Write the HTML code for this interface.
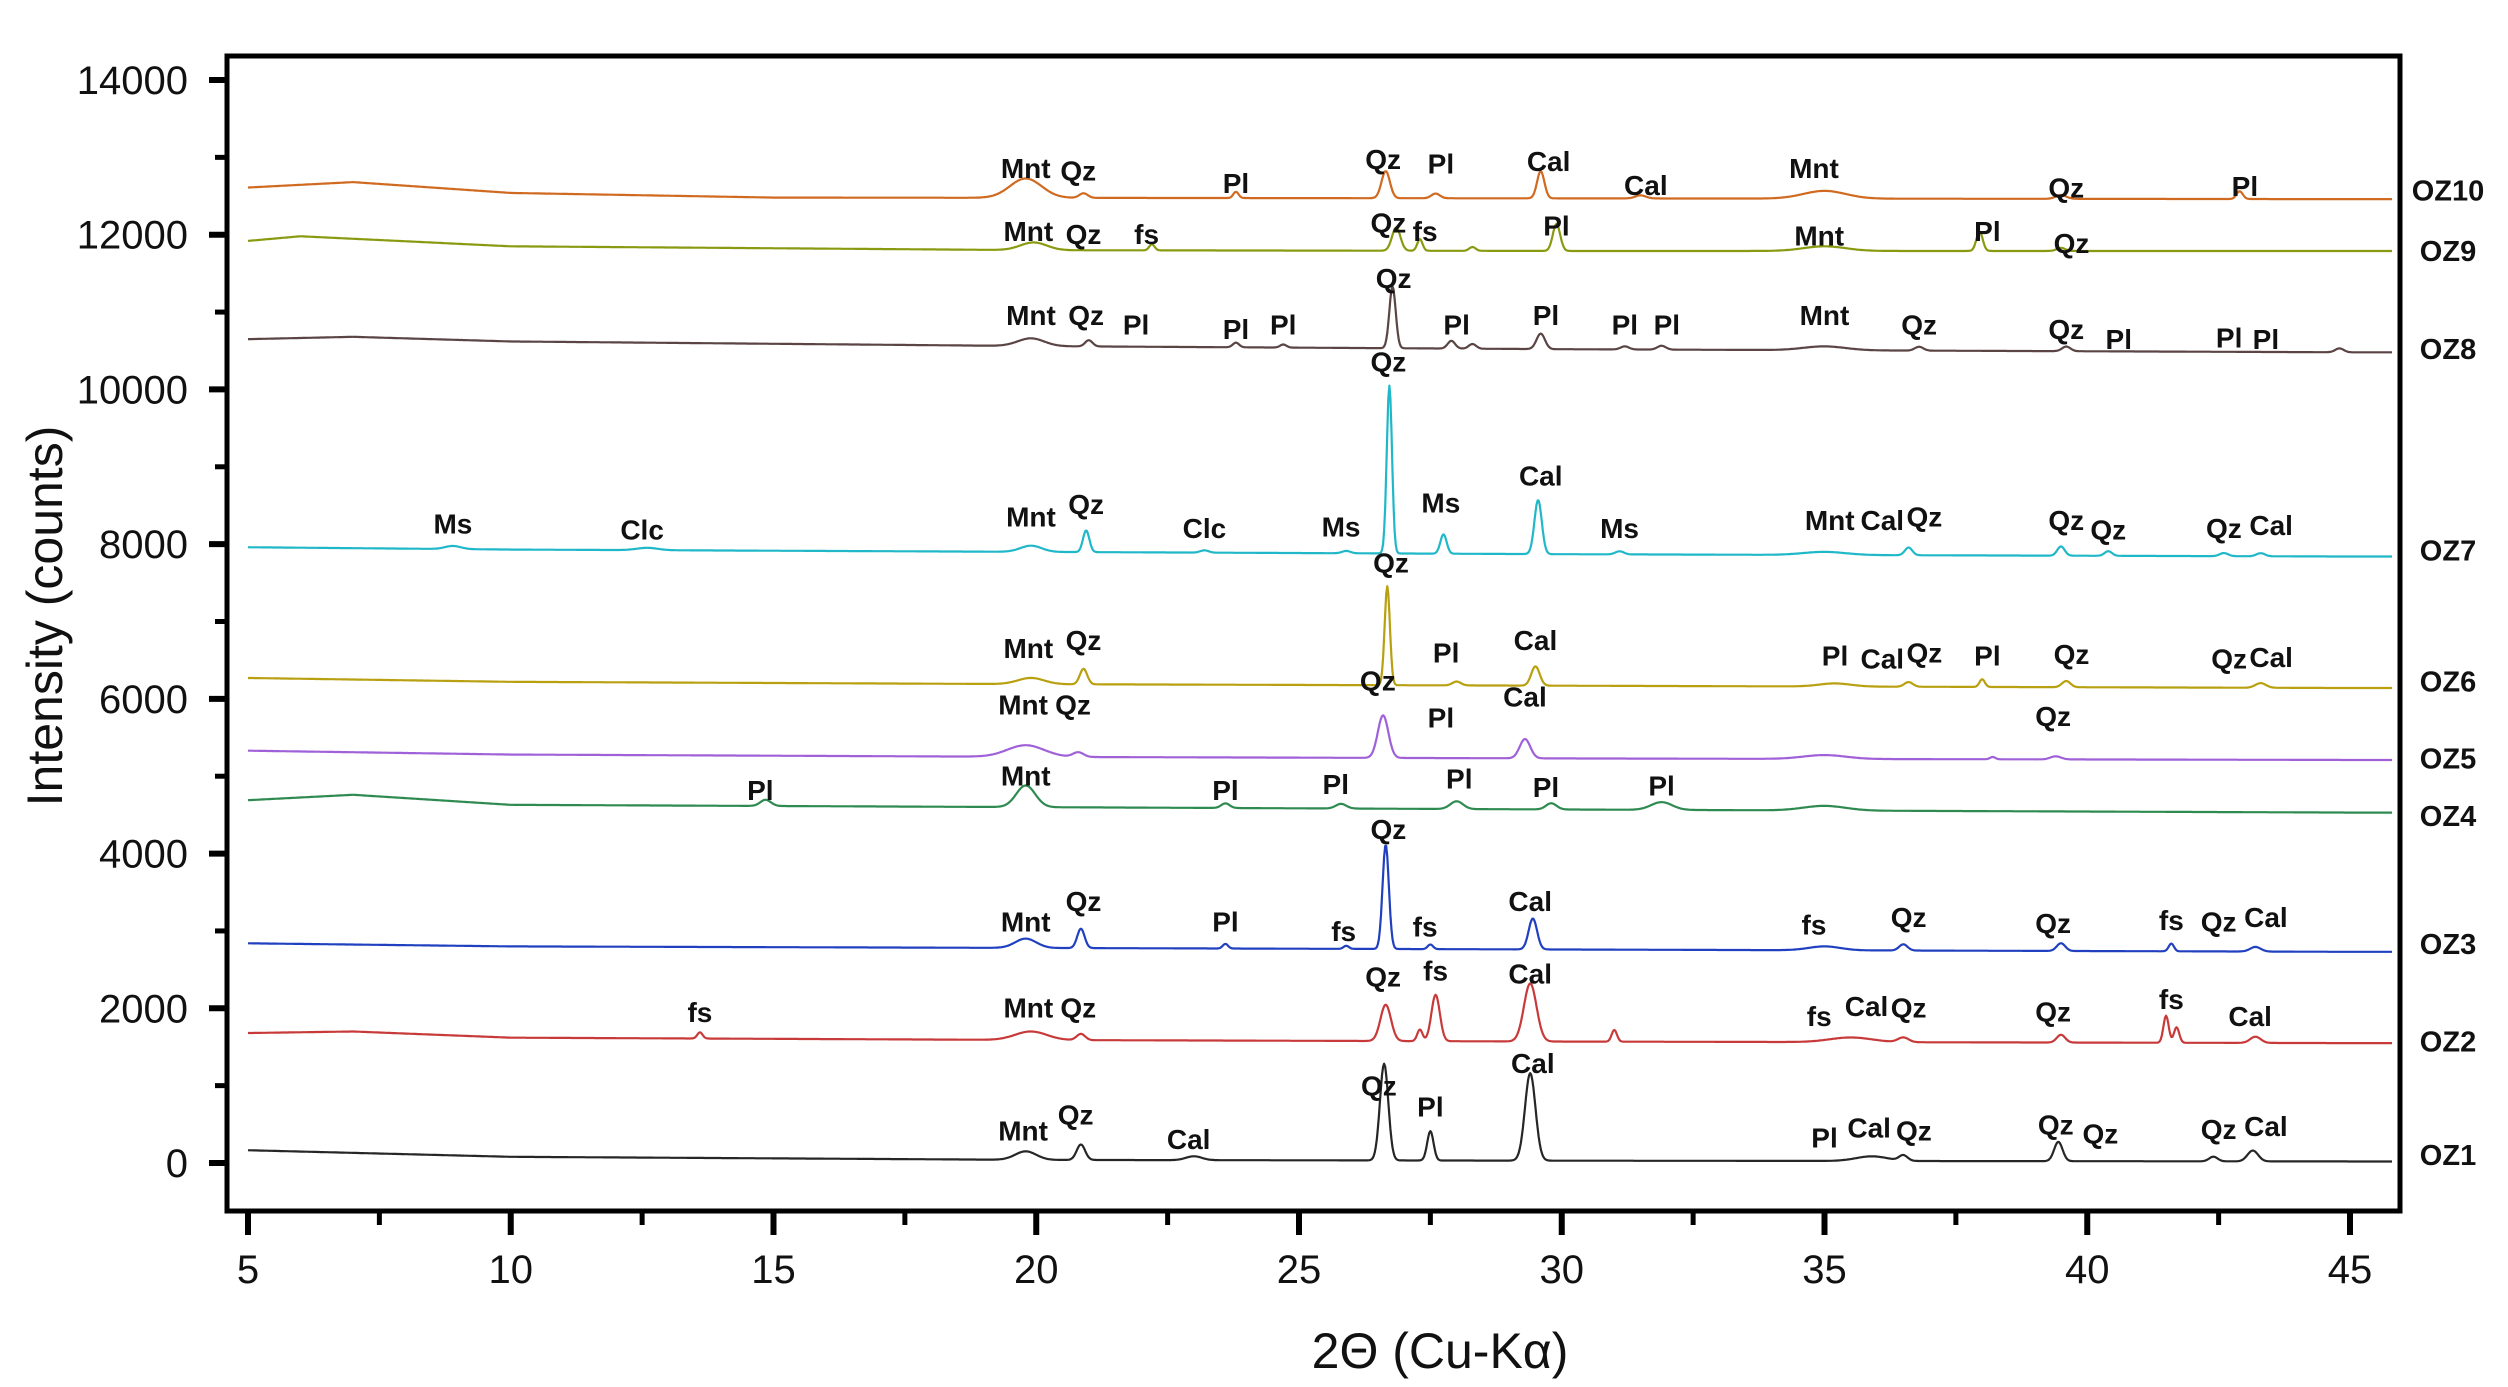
<!DOCTYPE html>
<html><head><meta charset="utf-8"><style>
html,body{margin:0;padding:0;background:#fff;}
svg{display:block;font-family:"Liberation Sans",Arial,sans-serif;}
</style></head><body>
<svg id="chart" width="2508" height="1387" viewBox="0 0 2508 1387"></svg>
<script>
// ---- data ----
const sampleNames = ["OZ1","OZ2","OZ3","OZ4","OZ5","OZ6","OZ7","OZ8","OZ9","OZ10"];
const sampleColors = ["#262626","#c83a3a","#2040c0","#2e8a50","#a060d8","#b8a010","#20b8c8","#5a4444","#8a9a10","#d06a20"];
// baselines: [2theta, counts]
const base1 = [[5,165],[10,80],[20,40],[30,30],[45,20]];
const base2 = [[5,1680],[7,1700],[10,1620],[20,1590],[30,1570],[45,1550]];
const base3 = [[5,2840],[10,2800],[20,2780],[30,2760],[45,2730]];
const base4 = [[5,4690],[7,4760],[10,4630],[20,4600],[30,4570],[45,4530]];
const base5 = [[5,5330],[10,5280],[20,5250],[30,5230],[45,5210]];
const base6 = [[5,6270],[10,6220],[20,6190],[30,6170],[45,6140]];
const base7 = [[5,7960],[10,7930],[20,7900],[30,7870],[45,7840]];
const base8 = [[5,10650],[7,10680],[10,10620],[20,10560],[30,10520],[45,10480]];
const base9 = [[5,11920],[6,11980],[10,11850],[20,11800],[30,11790],[45,11790]];
const base10 = [[5,12610],[7,12680],[10,12540],[15,12480],[30,12470],[45,12460]];
// peaks: [2theta, height, width(sigma)]
const peaks1 = [[19.8,110,0.2],[20.85,200,0.08],[23.0,50,0.15],[26.62,1250,0.08],[27.5,380,0.06],[29.4,1130,0.1],[35.9,60,0.3],[36.5,70,0.08],[39.45,250,0.08],[42.4,60,0.08],[43.15,140,0.1]];
const peaks2 = [[13.6,80,0.05],[19.9,110,0.3],[20.85,80,0.08],[26.65,470,0.1],[27.3,150,0.05],[27.6,600,0.08],[29.4,750,0.12],[31.0,150,0.05],[35.5,60,0.4],[36.5,60,0.1],[39.5,100,0.08],[41.5,350,0.05],[41.7,200,0.05],[43.2,80,0.1]];
const peaks3 = [[19.8,120,0.2],[20.85,250,0.07],[23.6,60,0.05],[25.9,40,0.05],[26.65,1350,0.06],[27.5,60,0.05],[29.45,400,0.08],[35.0,50,0.3],[36.5,80,0.08],[39.5,100,0.08],[41.6,100,0.05],[43.2,60,0.1]];
const peaks4 = [[14.85,80,0.1],[19.8,280,0.18],[23.6,60,0.08],[25.8,60,0.1],[28.0,100,0.12],[29.8,80,0.1],[31.9,100,0.2],[35.0,60,0.4]];
const peaks5 = [[19.8,150,0.35],[20.8,60,0.1],[26.6,550,0.1],[29.3,250,0.1],[35.0,50,0.4],[38.2,30,0.05],[39.4,40,0.1]];
const peaks6 = [[19.9,80,0.25],[20.9,200,0.07],[26.68,1280,0.05],[28.0,50,0.08],[29.5,250,0.08],[35.2,40,0.3],[36.6,60,0.08],[38.0,100,0.05],[39.6,80,0.08],[43.3,60,0.1]];
const peaks7 = [[8.9,40,0.15],[12.6,30,0.2],[19.9,80,0.2],[20.95,280,0.06],[23.2,30,0.08],[25.9,30,0.08],[26.72,2170,0.05],[27.75,250,0.06],[29.55,700,0.07],[31.1,40,0.08],[35.0,40,0.4],[36.6,100,0.07],[39.5,120,0.07],[40.4,60,0.07],[42.6,40,0.08],[43.3,40,0.08]];
const peaks8 = [[19.9,100,0.25],[21.0,80,0.07],[23.8,60,0.06],[24.7,40,0.06],[26.78,800,0.06],[27.9,100,0.07],[28.3,60,0.07],[29.6,200,0.08],[31.2,40,0.08],[31.9,50,0.08],[35.0,50,0.4],[36.8,50,0.08],[39.6,60,0.08],[44.8,50,0.08]];
const peaks9 = [[19.95,100,0.25],[22.2,80,0.05],[26.85,300,0.08],[27.3,150,0.05],[28.3,50,0.06],[29.9,350,0.07],[35.0,60,0.4],[37.95,250,0.06],[39.5,40,0.08]];
const peaks10 = [[19.8,250,0.3],[20.9,60,0.08],[23.8,80,0.05],[26.65,350,0.08],[27.6,60,0.08],[29.6,350,0.07],[31.5,40,0.1],[35.0,100,0.4],[39.5,50,0.1],[42.9,100,0.06]];
const baselines = [base1,base2,base3,base4,base5,base6,base7,base8,base9,base10];
const peakSets = [peaks1,peaks2,peaks3,peaks4,peaks5,peaks6,peaks7,peaks8,peaks9,peaks10];
const xTicks = [5,10,15,20,25,30,35,40,45];
const yTicks = [0,2000,4000,6000,8000,10000,12000,14000];
// phase annotations: [label, 2theta, counts]
const annotations = [
["Mnt",19.8,12860],["Qz",20.8,12830],["Pl",23.8,12670],["Qz",26.6,12980],["Pl",27.7,12920],["Cal",29.75,12950],["Cal",31.6,12640],["Mnt",34.8,12860],["Qz",39.6,12610],["Pl",43.0,12630],
["Mnt",19.85,12050],["Qz",20.9,12010],["fs",22.1,12010],["Qz",26.7,12160],["fs",27.4,12050],["Pl",29.9,12120],["Mnt",34.9,11990],["Pl",38.1,12050],["Qz",39.7,11890],
["Qz",26.8,11440],["Mnt",19.9,10960],["Qz",20.95,10960],["Pl",21.9,10840],["Pl",23.8,10780],["Pl",24.7,10840],["Pl",28.0,10840],["Pl",29.7,10960],["Pl",31.2,10840],["Pl",32.0,10840],["Mnt",35.0,10960],["Qz",36.8,10840],["Qz",39.6,10780],["Pl",40.6,10650],["Pl",42.7,10670],["Pl",43.4,10650],
["Qz",26.7,10360],["Ms",8.9,8270],["Clc",12.5,8190],["Mnt",19.9,8360],["Qz",20.95,8520],["Clc",23.2,8210],["Ms",25.8,8230],["Ms",27.7,8540],["Cal",29.6,8890],["Ms",31.1,8210],["Mnt",35.1,8310],["Cal",36.1,8310],["Qz",36.9,8360],["Qz",39.6,8310],["Qz",40.4,8190],["Qz",42.6,8210],["Cal",43.5,8250],
["Qz",26.75,7760],["Mnt",19.85,6660],["Qz",20.9,6760],["Pl",27.8,6600],["Cal",29.5,6760],["Pl",35.2,6560],["Cal",36.1,6520],["Qz",36.9,6600],["Pl",38.1,6560],["Qz",39.7,6580],["Qz",42.7,6520],["Cal",43.5,6540],
["Qz",26.5,6240],["Mnt",19.75,5930],["Qz",20.7,5930],["Pl",27.7,5760],["Cal",29.3,6030],["Qz",39.35,5780],
["Pl",14.75,4820],["Mnt",19.8,5010],["Pl",23.6,4820],["Pl",25.7,4900],["Pl",28.05,4970],["Pl",29.7,4860],["Pl",31.9,4880],
["Qz",26.7,4320],["Mnt",19.8,3120],["Qz",20.9,3390],["Pl",23.6,3120],["fs",25.85,3000],["fs",27.4,3060],["Cal",29.4,3390],["fs",34.8,3080],["Qz",36.6,3180],["Qz",39.35,3100],["fs",41.6,3140],["Qz",42.5,3120],["Cal",43.4,3180],
["Qz",26.6,2410],["fs",27.6,2490],["Cal",29.4,2450],["fs",13.6,1950],["Mnt",19.85,2010],["Qz",20.8,2010],["fs",34.9,1900],["Cal",35.8,2030],["Qz",36.6,2010],["Qz",39.35,1960],["fs",41.6,2120],["Cal",43.1,1900],
["Qz",26.52,1000],["Cal",29.45,1290],["Pl",27.5,730],["Mnt",19.75,420],["Qz",20.75,630],["Cal",22.9,310],["Pl",35.0,330],["Cal",35.85,460],["Qz",36.7,420],["Qz",39.4,500],["Qz",40.25,380],["Qz",42.5,440],["Cal",43.4,480]
];
const sampleLabelY = [722,651,590,510,474,426,344,218,157,119]; // overview px (label layout)
</script>
<script>
const NS="http://www.w3.org/2000/svg";
const svg=document.getElementById('chart');
const L=227,R=2400,T=56,B=1211;
const X0=248,X1=2350;
function xs(v){return X0+(v-5)*(X1-X0)/40;}
const Y0=1163,Y1=80;
function ys(v){return Y0+(v)*(Y1-Y0)/14000;}
function mk(tag,attrs,parent){const e=document.createElementNS(NS,tag);for(const k in attrs)e.setAttribute(k,attrs[k]);(parent||svg).appendChild(e);return e;}
function baseAt(b,x){for(let i=0;i<b.length-1;i++){if(x<=b[i+1][0]){const t=(x-b[i][0])/(b[i+1][0]-b[i][0]);return b[i][1]+t*(b[i+1][1]-b[i][1]);}}return b[b.length-1][1];}

// series
const gSeries=mk('g',{});


for(let s=0;s<sampleNames.length;s++){
  let d='';
  for(let x=5;x<=45.8+1e-9;x+=0.02){
    let v=baseAt(baselines[s],x);
    for(const p of peakSets[s]){const z=(x-p[0])/p[2];v+=p[1]*Math.exp(-0.5*z*z);}
    d+=(d?'L':'M')+xs(x).toFixed(1)+' '+ys(v).toFixed(1);
  }
  const path=mk('path',{d:d,fill:'none',stroke:sampleColors[s],'stroke-width':2.2,'stroke-linejoin':'round'},gSeries);
  
  
  const lbl=mk('text',{x:2448,y:sampleLabelY[s]*1.6+10,'font-size':29,'font-weight':'bold','text-anchor':'middle',fill:'#111'});
  lbl.textContent=sampleNames[s];
  
  
}
// annotations
for(const a of annotations){
  const t=mk('text',{x:xs(a[1]),y:ys(a[2])+10,'font-size':28,'font-weight':'bold','text-anchor':'middle',fill:'#111'});
  t.textContent=a[0];
  
  
}
// frame
const frame=mk('rect',{x:L,y:T,width:R-L,height:B-T,fill:'none',stroke:'#000','stroke-width':5});


// y ticks
for(let v=0;v<=14000;v+=1000){
  const major=v%2000===0;
  const tk=mk('line',{x1:L,x2:L-(major?18:12),y1:ys(v),y2:ys(v),stroke:'#000','stroke-width':major?6:5});
  
  
}
for(const v of yTicks){
  const t=mk('text',{x:188,y:ys(v)+14,'font-size':40,'text-anchor':'end',fill:'#111'});
  t.textContent=v;
  
  
}
// x ticks
for(let v=5;v<=45;v+=2.5){
  const major=v%5===0;
  const tk=mk('line',{x1:xs(v),x2:xs(v),y1:B,y2:B+(major?24:14),stroke:'#000','stroke-width':major?6:5});
  
  
}
for(const v of xTicks){
  const t=mk('text',{x:xs(v),y:1283,'font-size':40,'text-anchor':'middle',fill:'#111'});
  t.textContent=v;
  
  
}
const xt=mk('text',{x:1440,y:1368,'font-size':50,'text-anchor':'middle',fill:'#111'});
xt.textContent='2Θ (Cu-Kα)';


const yt=mk('text',{x:0,y:0,'font-size':50,'text-anchor':'middle',fill:'#111',transform:'translate(62,616) rotate(-90)'});
yt.textContent='Intensity (counts)';


</script>
</body></html>
